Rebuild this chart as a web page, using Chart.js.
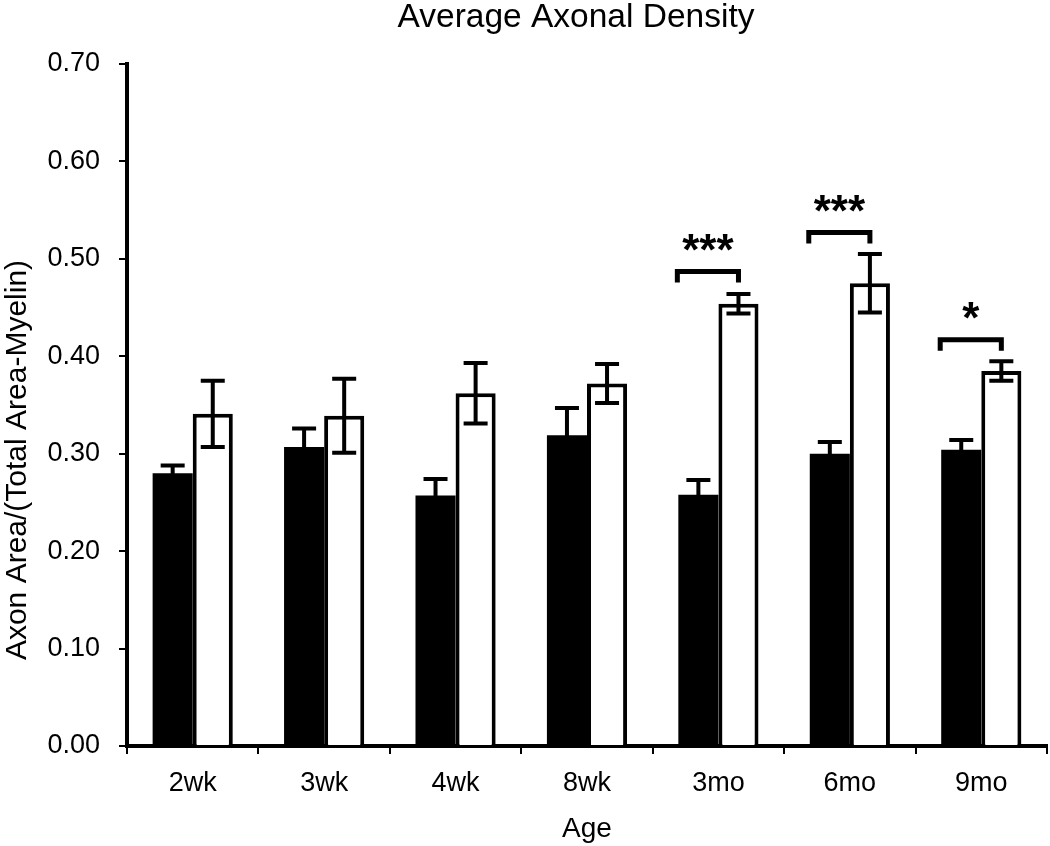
<!DOCTYPE html>
<html>
<head>
<meta charset="utf-8">
<script src="https://cdn.jsdelivr.net/npm/chart.js@4"></script>
<style>
  html, body { margin: 0; padding: 0; background: #fff; }
  #wrap { width: 1050px; height: 846px; }
</style>
</head>
<body>
<div id="wrap"><canvas id="c" width="1050" height="846"></canvas></div>
<script>
const categories = ['2wk', '3wk', '4wk', '8wk', '3mo', '6mo', '9mo'];
const blackValues = [0.280, 0.307, 0.257, 0.319, 0.258, 0.300, 0.304];
const blackErrors = [0.008, 0.019, 0.017, 0.028, 0.015, 0.012, 0.010];
const whiteValues = [0.341, 0.339, 0.362, 0.372, 0.454, 0.475, 0.385];
const whiteErrors = [0.034, 0.038, 0.031, 0.020, 0.010, 0.030, 0.010];
const sigLabels = ['', '', '', '', '***', '***', '*'];
const sigLevels = [null, null, null, null, 0.487, 0.527, 0.417];
const yMin = 0, yMax = 0.70, yStep = 0.10;
const chartTitle = 'Average Axonal Density';
const xTitle = 'Age';
const yTitle = 'Axon Area/(Total Area-Myelin)';

const FONT = "'Liberation Sans', Arial, Helvetica, sans-serif";
const errorsByDataset = [blackErrors, whiteErrors];

const errorBarPlugin = {
  id: 'errorBars',
  afterDatasetsDraw(chart) {
    const ctx = chart.ctx;
    const y = chart.scales.y;
    ctx.save();
    ctx.strokeStyle = '#000';
    ctx.lineWidth = 4;
    ctx.lineCap = 'butt';
    chart.data.datasets.forEach((ds, di) => {
      const meta = chart.getDatasetMeta(di);
      meta.data.forEach((bar, i) => {
        const v = ds.data[i], e = errorsByDataset[di][i];
        const yt = y.getPixelForValue(v + e);
        const yb = y.getPixelForValue(v - e);
        const half = 12;
        ctx.beginPath();
        ctx.moveTo(bar.x, yt); ctx.lineTo(bar.x, yb);
        ctx.moveTo(bar.x - half, yt); ctx.lineTo(bar.x + half, yt);
        ctx.moveTo(bar.x - half, yb); ctx.lineTo(bar.x + half, yb);
        ctx.stroke();
      });
    });
    ctx.restore();
  }
};

const sigPlugin = {
  id: 'significance',
  afterDatasetsDraw(chart) {
    const ctx = chart.ctx;
    const y = chart.scales.y;
    const m0 = chart.getDatasetMeta(0), m1 = chart.getDatasetMeta(1);
    ctx.save();
    ctx.strokeStyle = '#000';
    ctx.fillStyle = '#000';
    ctx.lineWidth = 5;
    ctx.lineJoin = 'miter';
    sigLevels.forEach((lvl, i) => {
      if (lvl === null) return;
      const a = m0.data[i], b = m1.data[i];
      const x1 = a.x - a.width / 2 - 1;
      const x2 = b.x;
      const py = y.getPixelForValue(lvl);
      ctx.beginPath();
      ctx.moveTo(x1, py + 11);
      ctx.lineTo(x1, py);
      ctx.lineTo(x2, py);
      ctx.lineTo(x2, py + 11);
      ctx.stroke();
      ctx.font = 'bold 44px ' + FONT;
      ctx.textAlign = 'center';
      ctx.textBaseline = 'alphabetic';
      ctx.fillText(sigLabels[i], (x1 + x2) / 2, py - 7);
    });
    ctx.restore();
  }
};

const textPlugin = {
  id: 'texts',
  afterDraw(chart) {
    const ctx = chart.ctx;
    const a = chart.chartArea;
    ctx.save();
    ctx.fillStyle = '#000';
    ctx.font = '33.5px ' + FONT;
    ctx.textAlign = 'center';
    ctx.textBaseline = 'alphabetic';
    ctx.fillText(chartTitle, (a.left + a.right) / 2 - 11, 27);
    ctx.translate(18, (a.top + a.bottom) / 2 + 55);
    ctx.rotate(-Math.PI / 2);
    ctx.font = '30px ' + FONT;
    ctx.textBaseline = 'middle';
    ctx.fillText(yTitle, 0, 0);
    ctx.restore();
  }
};

new Chart(document.getElementById('c'), {
  type: 'bar',
  data: {
    labels: categories,
    datasets: [
      { label: 'Group 1', data: blackValues, backgroundColor: '#000', borderColor: '#000', borderWidth: 0 },
      { label: 'Group 2', data: whiteValues, backgroundColor: '#fff', borderColor: '#000', borderWidth: 4, borderSkipped: 'start' }
    ]
  },
  options: {
    responsive: false,
    animation: false,
    devicePixelRatio: 1,
    layout: { padding: { left: 0, right: 3, top: 64, bottom: 0 } },
    datasets: { bar: { categoryPercentage: 0.61, barPercentage: 1.0 } },
    plugins: {
      legend: { display: false },
      tooltip: { enabled: false },
      title: { display: false }
    },
    scales: {
      x: {
        offset: true,
        grid: { offset: true, drawOnChartArea: false, drawTicks: true, tickLength: 8, color: '#000', lineWidth: 2 },
        border: { display: true, color: '#000', width: 4 },
        ticks: { color: '#000', font: { family: FONT, size: 27 }, padding: 13 },
        title: { display: true, text: xTitle, color: '#000', font: { family: FONT, size: 28 }, padding: { top: 0, bottom: 0 } },
        afterFit(scale) { scale.height = 100; }
      },
      y: {
        min: yMin, max: yMax,
        grid: { drawOnChartArea: false, drawTicks: true, tickLength: 8, color: '#000', lineWidth: 2 },
        border: { display: true, color: '#000', width: 4 },
        ticks: { stepSize: yStep, color: '#000', font: { family: FONT, size: 27 }, padding: 19,
                 callback: (v) => Number(v).toFixed(2) },
        afterFit(scale) { scale.width = 127; }
      }
    }
  },
  plugins: [errorBarPlugin, sigPlugin, textPlugin]
});
</script>
</body>
</html>
